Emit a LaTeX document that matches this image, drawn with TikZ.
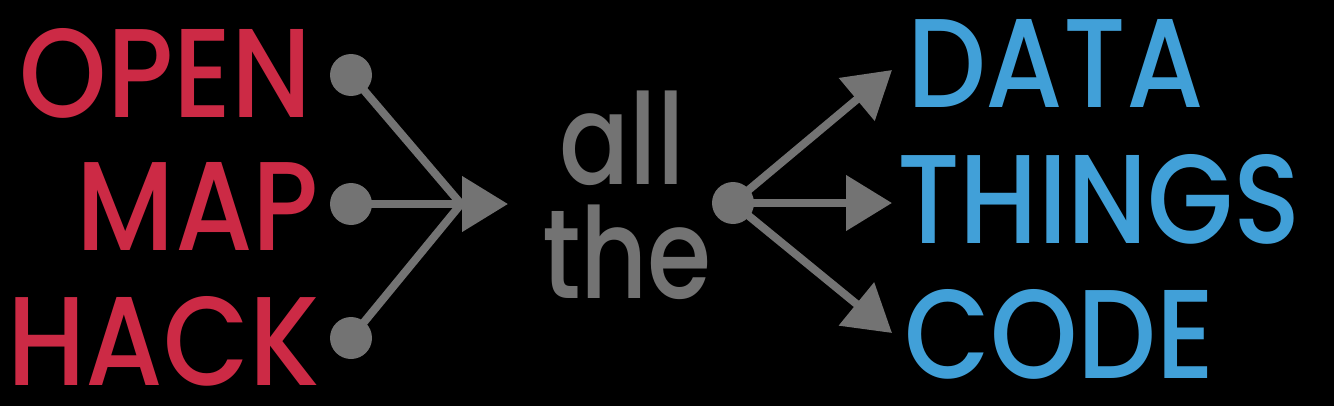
\documentclass[tikz,border=0pt]{standalone}
\usepackage{fontspec}
\newfontfamily\wordfont{Poppins}[UprightFont=* Medium, FakeStretch=0.88]
\newfontfamily\smallfont{Poppins}[UprightFont=* Medium, FakeStretch=0.82]
\usetikzlibrary{arrows.meta}
\definecolor{colorred}{HTML}{CC2A45}
\definecolor{colorblue}{HTML}{41A0D8}
\definecolor{colorgray}{HTML}{737373}
\tikzset{
  word/.style={inner sep=0pt, outer sep=0pt, font=\wordfont\fontsize{72}{72}\selectfont},
  smallword/.style={inner sep=0pt, outer sep=0pt, text=colorgray, font=\smallfont\fontsize{72}{72}\selectfont},
  dot/.style={circle, fill=colorgray, minimum size=0.84cm, inner sep=0pt},
  link/.style={draw=colorgray, line width=0.16cm},
  tip/.style={-{Triangle[length=0.92cm,width=1.08cm]}}
}

\begin{document}
\begin{tikzpicture}[x=0.02cm,y=-0.02cm]

\useasboundingbox (0,0) rectangle (1334,406);
\fill[black] (0,0) rectangle (1334,406);

\node[word, text=colorred, anchor=base east] (open) at (312,117) {OPEN};
\node[word, text=colorred, anchor=base east] (map)  at (319,250) {MAP};
\node[word, text=colorred, anchor=base east] (hack) at (320,385) {HACK};

\node[smallword, anchor=base] (all) at (622,184) {all};
\node[smallword, anchor=base] (the) at (627,298) {the};

\node[word, text=colorblue, anchor=base west] (data)   at (907,107) {DATA};
\node[word, text=colorblue, anchor=base west] (things) at (897,243) {THINGS};
\node[word, text=colorblue, anchor=base west] (code)   at (904,378) {CODE};

\node[dot] (d1) at (351,75) {};
\node[dot] (d2) at (351,204) {};
\node[dot] (d3) at (351,338) {};
\node[dot] (d4) at (733,203) {};

\coordinate (join) at (461,204);
\coordinate (t0) at (508,204);
\coordinate (t1) at (892,70);
\coordinate (t2) at (892,203);
\coordinate (t3) at (892,333);

\draw[link] (d1.center) -- (join);
\draw[link] (d2.center) -- (join);
\draw[link] (d3.center) -- (join);
\draw[link, tip] (join) -- (t0);

\draw[link, tip] (d4.center) -- (t1);
\draw[link, tip] (d4.center) -- (t2);
\draw[link, tip] (d4.center) -- (t3);

\end{tikzpicture}
\end{document}
